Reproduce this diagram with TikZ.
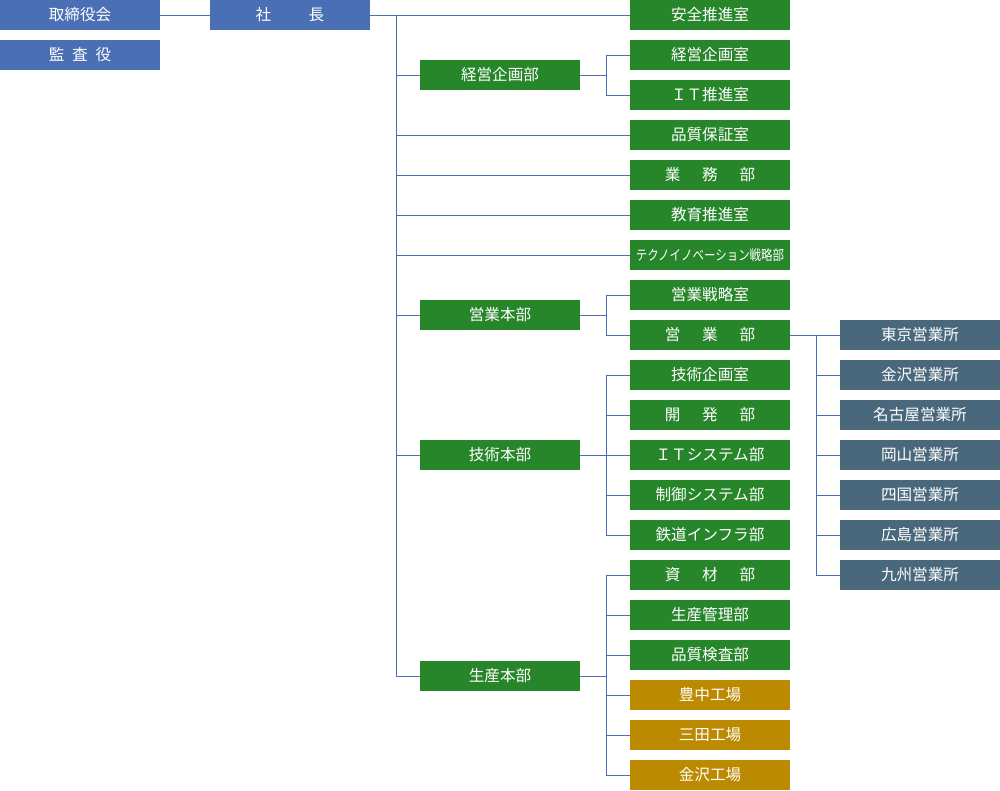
\documentclass[tikz,border=0pt]{standalone}
\usepackage{graphicx}
\usepackage{fontspec}
\setmainfont{Noto Sans CJK JP}
\definecolor{cblue}{HTML}{4A6FB5}
\definecolor{cgreen}{HTML}{27852A}
\definecolor{cslate}{HTML}{4A687C}
\definecolor{cgold}{HTML}{BB8A00}
\definecolor{cline}{HTML}{4A6FB5}
\tikzset{
  box/.style={minimum width=160pt,minimum height=30pt,inner sep=0pt,text=white,font=\fontsize{15.6}{18}\selectfont,anchor=center},
  bbox/.style={box,fill=cblue},
  gbox/.style={box,fill=cgreen},
  sbox/.style={box,fill=cslate},
  ybox/.style={box,fill=cgold},
  conn/.style={draw=cline,line width=1pt},
}
\begin{document}
\begin{tikzpicture}[x=1pt,y=-1pt]
\useasboundingbox (0,0) rectangle (1000,790);
% top level
\node[bbox] (board) at (80,15) {取締役会};
\node[bbox] (audit) at (80,55) {監\hspace{0.5em}査\hspace{0.5em}役};
\node[bbox] (pres) at (290,15) {社\hspace{2.4em}長};
% column 2
\node[gbox] (c0) at (710,15) {安全推進室};
\node[gbox] (c1) at (710,55) {経営企画室};
\node[gbox] (c2) at (710,95) {ＩＴ推進室};
\node[gbox] (c3) at (710,135) {品質保証室};
\node[gbox] (c4) at (710,175) {業\hspace{1.4em}務\hspace{1.4em}部};
\node[gbox] (c5) at (710,215) {教育推進室};
\node[gbox,font=\fontsize{14}{16}\selectfont] (c6) at (710,255) {\scalebox{0.82}[1]{テクノイノベーション戦略部}};
\node[gbox] (c7) at (710,295) {営業戦略室};
\node[gbox] (c8) at (710,335) {営\hspace{1.4em}業\hspace{1.4em}部};
\node[gbox] (c9) at (710,375) {技術企画室};
\node[gbox] (c10) at (710,415) {開\hspace{1.4em}発\hspace{1.4em}部};
\node[gbox] (c11) at (710,455) {ＩＴシステム部};
\node[gbox] (c12) at (710,495) {制御システム部};
\node[gbox] (c13) at (710,535) {鉄道インフラ部};
\node[gbox] (c14) at (710,575) {資\hspace{1.4em}材\hspace{1.4em}部};
\node[gbox] (c15) at (710,615) {生産管理部};
\node[gbox] (c16) at (710,655) {品質検査部};
\node[ybox] (c17) at (710,695) {豊中工場};
\node[ybox] (c18) at (710,735) {三田工場};
\node[ybox] (c19) at (710,775) {金沢工場};
% group heads
\node[gbox] (g1) at (500,75) {経営企画部};
\node[gbox] (g2) at (500,315) {営業本部};
\node[gbox] (g3) at (500,455) {技術本部};
\node[gbox] (g4) at (500,676) {生産本部};
% column 3
\node[sbox] (s0) at (920,335) {東京営業所};
\node[sbox] (s1) at (920,375) {金沢営業所};
\node[sbox] (s2) at (920,415) {名古屋営業所};
\node[sbox] (s3) at (920,455) {岡山営業所};
\node[sbox] (s4) at (920,495) {四国営業所};
\node[sbox] (s5) at (920,535) {広島営業所};
\node[sbox] (s6) at (920,575) {九州営業所};
% connectors
\draw[conn] (board.east) -- (pres.west);
\draw[conn] (pres.east) -- (c0.west);
\coordinate (t0) at (396,15);
\coordinate (t1) at (396,676);
\draw[conn] (t0) -- (t1);
\foreach \n in {g1,c3,c4,c5,c6,g2,g3,g4}{\draw[conn] (t0 |- \n.west) -- (\n.west);}
% 経営企画部
\draw[conn] (g1.east) -- ++(26,0) coordinate (b1);
\foreach \n in {c1,c2}{\draw[conn] (b1) |- (\n.west);}
% 営業本部
\draw[conn] (g2.east) -- ++(26,0) coordinate (b2);
\foreach \n in {c7,c8}{\draw[conn] (b2) |- (\n.west);}
% 技術本部
\draw[conn] (g3.east) -- ++(26,0) coordinate (b3);
\foreach \n in {c9,c10,c11,c12,c13}{\draw[conn] (b3) |- (\n.west);}
% 生産本部
\draw[conn] (g4.east) -- ++(26,0) coordinate (b4);
\foreach \n in {c14,c15,c16,c17,c18,c19}{\draw[conn] (b4) |- (\n.west);}
% 営業部 -> offices
\draw[conn] (c8.east) -- ++(26,0) coordinate (b5);
\foreach \n in {s0,s1,s2,s3,s4,s5,s6}{\draw[conn] (b5) |- (\n.west);}
\end{tikzpicture}
\end{document}
